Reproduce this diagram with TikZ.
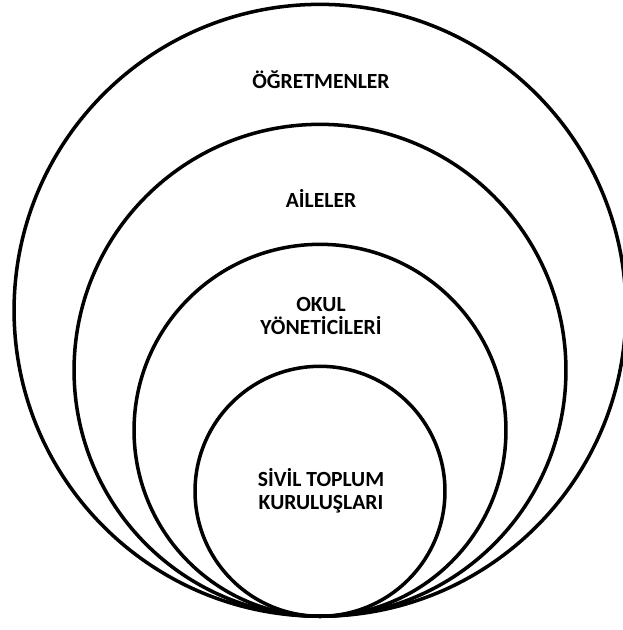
\documentclass[tikz,border=0pt]{standalone}
\usepackage{fontspec}
\setmainfont{Carlito}
\usepackage{tikz}
\usetikzlibrary{positioning}

\begin{document}
\begin{tikzpicture}[x=0.02cm, y=-0.02cm,
  ring/.style={circle, draw, line width=2pt, inner sep=0pt, anchor=south},
  every node/.style={font=\fontsize{12.3}{13.3}\selectfont\bfseries, align=center}]
\useasboundingbox (0,0) rectangle (623,630);
\coordinate (base) at (320,618);
\node[ring, minimum size=12.24cm] (teachers) at (base) {};
\node[ring, minimum size=9.84cm] (families) at (base) {};
\node[ring, minimum size=7.44cm] (admins) at (base) {};
\node[ring, minimum size=5.0cm] (ngos) at (base) {};
\node (lteachers) at (321,80) {ÖĞRETMENLER};
\node (lfamilies) at (321,198) {AİLELER};
\node (ladmins) at (321,316) {OKUL\\YÖNETİCİLERİ};
\node (lngos) at (321,491) {SİVİL TOPLUM\\KURULUŞLARI};
\end{tikzpicture}
\end{document}
